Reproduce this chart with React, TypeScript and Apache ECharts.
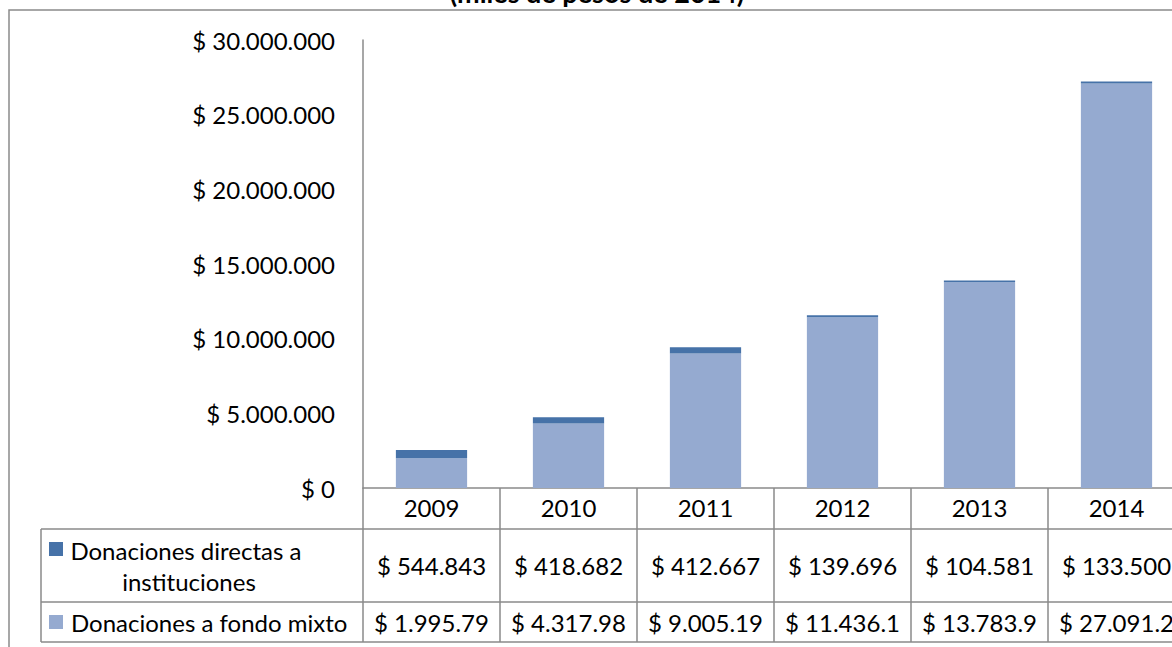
import React, { useEffect, useRef } from 'react';
import * as echarts from 'echarts';

// ---- data (miles de pesos de 2014) ----
const years = ['2009', '2010', '2011', '2012', '2013', '2014'];
const directas = [544843, 418682, 412667, 139696, 104581, 133500];
const fondoMixto = [1995795, 4317985, 9005195, 11436150, 13783950, 27091250];
const seriesNames = ['Donaciones directas a instituciones', 'Donaciones a fondo mixto'];
const titleText = '(miles de pesos de 2014)';
const yMin = 0;
const yMax = 30000000;
const yStep = 5000000;

const DARK = '#4672A8';
const LIGHT = '#95AAD0';
const GRAY = '#8a8a8a';
const FONT = 'Lato, "Open Sans", sans-serif';
const FS = 24;

const fmt = (v: number) =>
  '$ ' + Math.round(v).toString().replace(/\B(?=(\d{3})+(?!\d))/g, '.');

export default function App() {
  const ref = useRef<HTMLDivElement>(null);

  useEffect(() => {
    const chart = echarts.init(ref.current!, null, { renderer: 'svg' });
    chart.setOption({
      animation: false,
      textStyle: { fontFamily: FONT, color: '#000' },
      grid: {
        left: 363,
        top: 40,
        width: 822,
        height: 448,
        containLabel: false,
        outerBoundsMode: 'none',
      },
      xAxis: {
        type: 'category',
        data: years,
        axisLine: { show: true, lineStyle: { color: GRAY, width: 1.5 } },
        axisTick: { show: true, length: 154, interval: 0, lineStyle: { color: GRAY, width: 1.5 } },
        axisLabel: { fontSize: FS, color: '#000', margin: 7, interval: 0, fontFamily: FONT },
        splitLine: { show: false },
      },
      yAxis: {
        type: 'value',
        min: yMin,
        max: yMax,
        interval: yStep,
        axisLine: { show: true, lineStyle: { color: GRAY, width: 1.5 } },
        axisTick: { show: false },
        splitLine: { show: false },
        axisLabel: { fontSize: FS, color: '#000', margin: 28, fontFamily: FONT, formatter: fmt },
      },
      series: [
        {
          name: seriesNames[1],
          type: 'bar',
          stack: 'total',
          data: fondoMixto,
          barCategoryGap: '48%',
          itemStyle: { color: LIGHT },
        },
        {
          name: seriesNames[0],
          type: 'bar',
          stack: 'total',
          data: directas,
          itemStyle: { color: DARK },
        },
      ],
    });

    const cx = years.map((_, i) => chart.convertToPixel({ xAxisIndex: 0 }, i) as number);
    const bw = cx.length > 1 ? cx[1] - cx[0] : 137;
    const right = cx[cx.length - 1] + bw / 2;
    const tableLeft = 41;
    const rowLines = [529, 602, 642];
    const row1Y = 565.5;
    const row2Y = 622;

    const lineStyle = { stroke: GRAY, lineWidth: 1.5 };
    const elements: any[] = [];

    // outer chart border
    elements.push({
      type: 'rect',
      shape: { x: 9, y: 10, width: 1400, height: 900 },
      style: { fill: 'none', stroke: GRAY, lineWidth: 1.5 },
      silent: true,
    });

    // title (second line, mostly cut off at the top)
    elements.push({
      type: 'text',
      x: 597,
      y: 6,
      style: {
        text: titleText,
        align: 'center',
        verticalAlign: 'bottom',
        fontFamily: FONT,
        fontSize: 27,
        fontWeight: 'bold',
        fill: '#000',
      },
    });

    // table horizontal lines
    rowLines.forEach((y) => {
      elements.push({
        type: 'line',
        shape: { x1: tableLeft, y1: y, x2: right, y2: y },
        style: lineStyle,
      });
    });
    elements.push({
      type: 'line',
      shape: { x1: tableLeft, y1: rowLines[0], x2: tableLeft, y2: rowLines[2] },
      style: lineStyle,
    });

    // legend keys + names
    elements.push({
      type: 'rect',
      shape: { x: 49, y: 542, width: 14, height: 14 },
      style: { fill: DARK },
    });
    elements.push({
      type: 'text',
      x: 189,
      y: row1Y,
      style: {
        text: seriesNames[0],
        width: 260,
        overflow: 'break',
        align: 'center',
        verticalAlign: 'middle',
        lineHeight: 31,
        fontFamily: FONT,
        fontSize: FS,
        fill: '#000',
      },
    });
    elements.push({
      type: 'rect',
      shape: { x: 49, y: 615, width: 14, height: 14 },
      style: { fill: LIGHT },
    });
    elements.push({
      type: 'text',
      x: 71,
      y: row2Y,
      style: {
        text: seriesNames[1],
        align: 'left',
        verticalAlign: 'middle',
        fontFamily: FONT,
        fontSize: FS,
        fill: '#000',
      },
    });

    // values
    years.forEach((_, i) => {
      [
        { v: directas[i], y: row1Y },
        { v: fondoMixto[i], y: row2Y },
      ].forEach(({ v, y }) => {
        elements.push({
          type: 'text',
          x: cx[i],
          y,
          style: {
            text: fmt(v),
            align: 'center',
            verticalAlign: 'middle',
            width: 120,
            overflow: 'truncate',
            ellipsis: '',
            fontFamily: FONT,
            fontSize: FS,
            fill: '#000',
          },
        });
      });
    });

    chart.setOption({ graphic: elements });

    return () => chart.dispose();
  }, []);

  return (
    <div
      ref={ref}
      style={{ position: 'fixed', left: 0, top: 0, width: 1172, height: 647, background: '#fff' }}
    />
  );
}
